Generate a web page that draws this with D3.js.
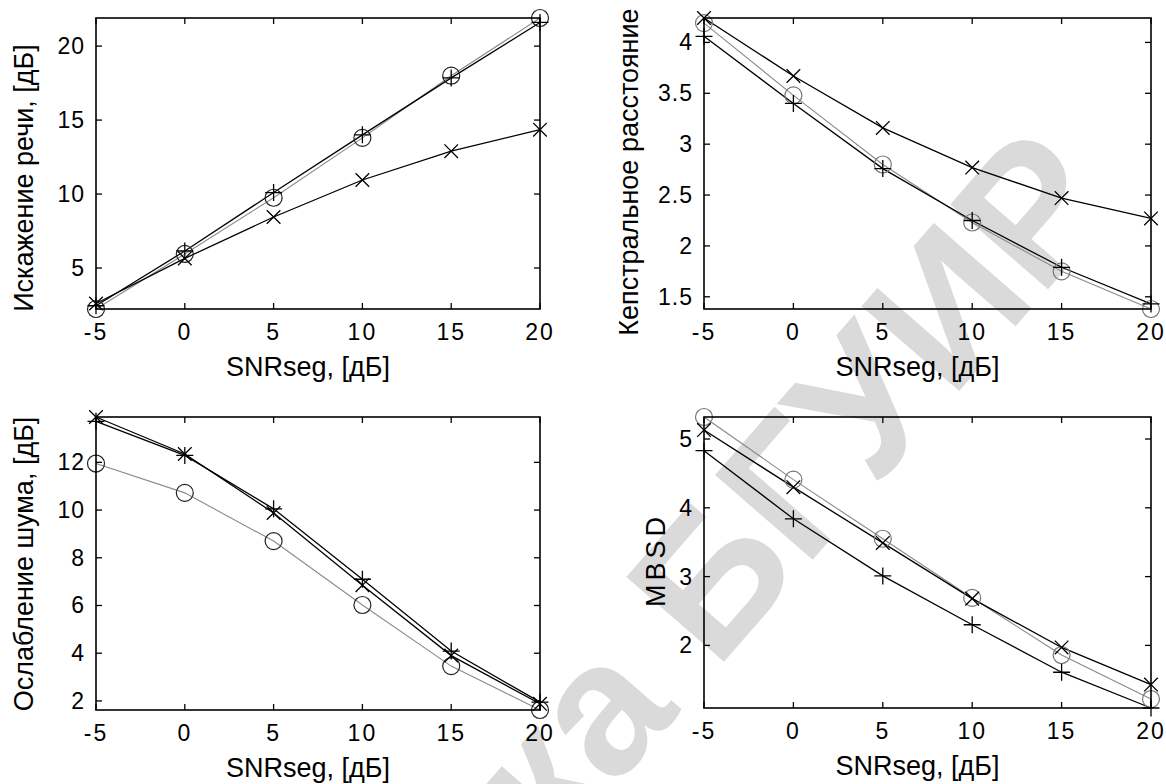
<!DOCTYPE html>
<html>
<head>
<meta charset="utf-8">
<script src="https://cdn.jsdelivr.net/npm/d3@7"></script>
<style>
  html, body { margin: 0; padding: 0; background: #fff; }
  svg { display: block; }
  text { font-family: "Liberation Sans", Arial, Helvetica, sans-serif; fill: #000; }
</style>
</head>
<body>
<svg id="chart" width="1166" height="784"></svg>
<script>
// SNRseg values on the x axis, dB
const snr = [-5, 0, 5, 10, 15, 20];
const xTickLabels = ["-5", "0", "5", "10", "15", "20"];

// Speech distortion, dB
const distortionPlus   = [2.45, 6.15, 10.1, 14.0, 17.85, 21.6];
const distortionCircle = [2.23, 5.95, 9.75, 13.8, 18.0, 21.9];
const distortionCross  = [2.6, 5.65, 8.45, 10.95, 12.9, 14.35];

// Cepstral distance
const cepstralPlus   = [4.06, 3.40, 2.76, 2.25, 1.79, 1.43];
const cepstralCircle = [4.19, 3.48, 2.80, 2.23, 1.75, 1.38];
const cepstralCross  = [4.24, 3.67, 3.16, 2.77, 2.47, 2.27];

// Noise attenuation, dB
const attenuationPlus   = [13.72, 12.29, 10.05, 7.10, 4.09, 1.95];
const attenuationCircle = [11.95, 10.72, 8.70, 6.02, 3.46, 1.62];
const attenuationCross  = [13.9, 12.35, 9.88, 6.85, 3.90, 1.88];

// MBSD
const mbsdPlus   = [4.83, 3.84, 3.01, 2.30, 1.61, 1.09];
const mbsdCircle = [5.32, 4.41, 3.55, 2.69, 1.86, 1.22];
const mbsdCross  = [5.13, 4.30, 3.49, 2.68, 1.97, 1.43];

// y tick values per panel
const distortionTicks  = [5, 10, 15, 20];
const cepstralTicks    = [1.5, 2, 2.5, 3, 3.5, 4];
const attenuationTicks = [2, 4, 6, 8, 10, 12];
const mbsdTicks        = [2, 3, 4, 5];

const svg = d3.select("#chart");

// Faint diagonal library watermark, drawn underneath the axes
svg.append("text")
  .attr("transform", "translate(1122,204) rotate(-49)")
  .attr("text-anchor", "end")
  .style("font-size", "188px")
  .style("font-weight", "bold")
  .style("fill", "#dadada")
  .text("Библиотека БГУИР");

const panels = [
  { box: [96, 540, 18, 309],  ylabel: "Искажение речи, [дБ]", ylabelPos: [33, 178],
    ticks: distortionTicks,
    series: { plus: distortionPlus, circle: distortionCircle, cross: distortionCross },
    circleColor: "#222" },
  { box: [704, 1151, 18, 309], ylabel: "Кепстральное расстояние", ylabelPos: [638, 172],
    ticks: cepstralTicks,
    series: { plus: cepstralPlus, circle: cepstralCircle, cross: cepstralCross },
    circleColor: "#777" },
  { box: [96, 540, 417, 710], ylabel: "Ослабление шума, [дБ]", ylabelPos: [33, 564],
    ticks: attenuationTicks,
    series: { plus: attenuationPlus, circle: attenuationCircle, cross: attenuationCross },
    circleColor: "#222" },
  { box: [704, 1151, 417, 708], ylabel: "MBSD", ylabelPos: [665, 560], ylabelSpacing: 4,
    ticks: mbsdTicks,
    series: { plus: mbsdPlus, circle: mbsdCircle, cross: mbsdCross },
    circleColor: "#777" }
];

const tickFont = 23;
const labelFont = 27;

function label(g, x, y, str, size, anchor, spacing) {
  const t = g.append("text")
    .attr("x", x).attr("y", y)
    .attr("text-anchor", anchor)
    .style("font-size", size + "px")
    .text(str);
  if (spacing) t.style("letter-spacing", spacing + "px");
  return t;
}

panels.forEach(p => {
  const [x0, x1, y0, y1] = p.box;
  const all = [].concat(p.series.plus, p.series.circle, p.series.cross);
  const x = d3.scaleLinear().domain([-5, 20]).range([x0, x1]);
  const y = d3.scaleLinear().domain(d3.extent(all)).range([y1, y0]);
  const g = svg.append("g");

  const line = d3.line().x((d, i) => x(snr[i])).y(d => y(d));

  // Inward tick marks on all four sides
  const tl = 6;
  snr.forEach(v => {
    g.append("line").attr("x1", x(v)).attr("x2", x(v)).attr("y1", y1).attr("y2", y1 - tl)
      .attr("stroke", "#000").attr("stroke-width", 1.3);
    g.append("line").attr("x1", x(v)).attr("x2", x(v)).attr("y1", y0).attr("y2", y0 + tl)
      .attr("stroke", "#000").attr("stroke-width", 1.3);
  });
  p.ticks.forEach(v => {
    g.append("line").attr("x1", x0).attr("x2", x0 + tl).attr("y1", y(v)).attr("y2", y(v))
      .attr("stroke", "#000").attr("stroke-width", 1.3);
    g.append("line").attr("x1", x1).attr("x2", x1 - tl).attr("y1", y(v)).attr("y2", y(v))
      .attr("stroke", "#000").attr("stroke-width", 1.3);
  });

  // Curves: grey for the circle series, black for the others
  g.append("path").datum(p.series.circle).attr("d", line)
    .attr("fill", "none").attr("stroke", "#8a8a8a").attr("stroke-width", 1.1);
  g.append("path").datum(p.series.plus).attr("d", line)
    .attr("fill", "none").attr("stroke", "#000").attr("stroke-width", 1.3);
  g.append("path").datum(p.series.cross).attr("d", line)
    .attr("fill", "none").attr("stroke", "#000").attr("stroke-width", 1.3);

  // Markers
  const m = 8.5;
  g.selectAll(null).data(p.series.circle).enter().append("circle")
    .attr("cx", (d, i) => x(snr[i])).attr("cy", d => y(d)).attr("r", m)
    .attr("fill", "none").attr("stroke", p.circleColor).attr("stroke-width", 1.2);
  g.selectAll(null).data(p.series.plus).enter().append("path")
    .attr("d", (d, i) => {
      const cx = x(snr[i]), cy = y(d);
      return `M${cx - m},${cy}H${cx + m}M${cx},${cy - m}V${cy + m}`;
    })
    .attr("stroke", "#000").attr("stroke-width", 1.3);
  g.selectAll(null).data(p.series.cross).enter().append("path")
    .attr("d", (d, i) => {
      const cx = x(snr[i]), cy = y(d), k = m * 0.8;
      return `M${cx - k},${cy - k}L${cx + k},${cy + k}M${cx - k},${cy + k}L${cx + k},${cy - k}`;
    })
    .attr("stroke", "#000").attr("stroke-width", 1.3);

  // Axes box
  g.append("rect").attr("x", x0).attr("y", y0).attr("width", x1 - x0).attr("height", y1 - y0)
    .attr("fill", "none").attr("stroke", "#000").attr("stroke-width", 1.6);

  // Tick labels
  snr.forEach((v, i) => label(g, x(v), y1 + 31, xTickLabels[i], tickFont, "middle", 2));
  p.ticks.forEach(v => label(g, x0 - 11, y(v) + 8, String(v), tickFont, "end", 1));

  // Axis labels
  label(g, (x0 + x1) / 2 - 10, y1 + 67, "SNRseg, [дБ]", labelFont, "middle");
  const yl = g.append("text")
    .attr("transform", `translate(${p.ylabelPos[0]},${p.ylabelPos[1]}) rotate(-90)`)
    .attr("text-anchor", "middle")
    .style("font-size", labelFont + "px")
    .text(p.ylabel);
  if (p.ylabelSpacing) yl.style("letter-spacing", p.ylabelSpacing + "px");
});
</script>
</body>
</html>
